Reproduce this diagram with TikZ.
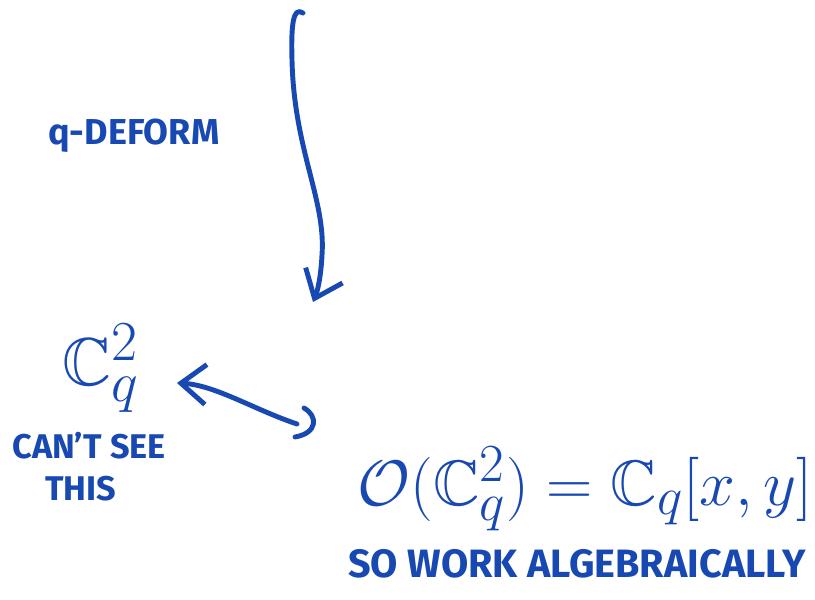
\documentclass[tikz,border=0pt]{standalone}
\usepackage{amsmath}
\usepackage{amssymb}
\usepackage{fontspec}
\setmainfont{Fira Sans}
\usetikzlibrary{positioning}
\usetikzlibrary{arrows.meta}
\definecolor{ink}{RGB}{24,72,178}

\begin{document}
\begin{tikzpicture}[x=0.2mm, y=-0.2mm,
    pen/.style={ink, line width=2.8pt, line cap=round, line join=round,
        >={Straight Barb[length=5mm, width=8mm]}},
    note/.style={ink, inner sep=0pt, anchor=base west}]
    \useasboundingbox (0,0) rectangle (815,600);

    % words
    \node[note, font=\fontsize{20.5}{22}\selectfont\bfseries] (deform) at (48,145) {q-DEFORM};
    \node[note, font=\Huge, scale=1.55] (cq) at (62,385) {$\mathbb{C}_q^2$};
    \node[note, font=\fontsize{19.5}{22}\selectfont\bfseries] (cantsee) at (12,458) {CAN'T SEE};
    \node[note, font=\fontsize{19.5}{22}\selectfont\bfseries] (this) at (45,500) {THIS};
    \node[note, font=\Huge, scale=1.47] (ring) at (357,505) {$\mathcal{O}(\mathbb{C}_q^2) = \mathbb{C}_q[x,y]$};
    \node[note, font=\fontsize{22.5}{24}\selectfont\bfseries] (algebra) at (348,577) {SO WORK ALGEBRAICALLY};

    % deformation arrow
    \coordinate (flowtop) at (303,13);
    \coordinate (flowend) at (313,302);
    \draw[pen, ->] (flowtop) .. controls (293,6) and (291,25) .. (292,60)
        .. controls (294,150) and (326,200) .. (322,255)
        .. controls (321,275) and (318,290) .. (flowend);

    % link to the ring
    \coordinate (linktip) at (177,383);
    \coordinate (linkend) at (297,424);
    \coordinate (hooktop) at (304,408);
    \coordinate (hookfoot) at (295,437);
    \draw[pen, <-] (linktip) .. controls (215,385) and (255,410) .. (linkend);
    \draw[pen] (hooktop) .. controls (318,416) and (318,433) .. (hookfoot);
\end{tikzpicture}
\end{document}
